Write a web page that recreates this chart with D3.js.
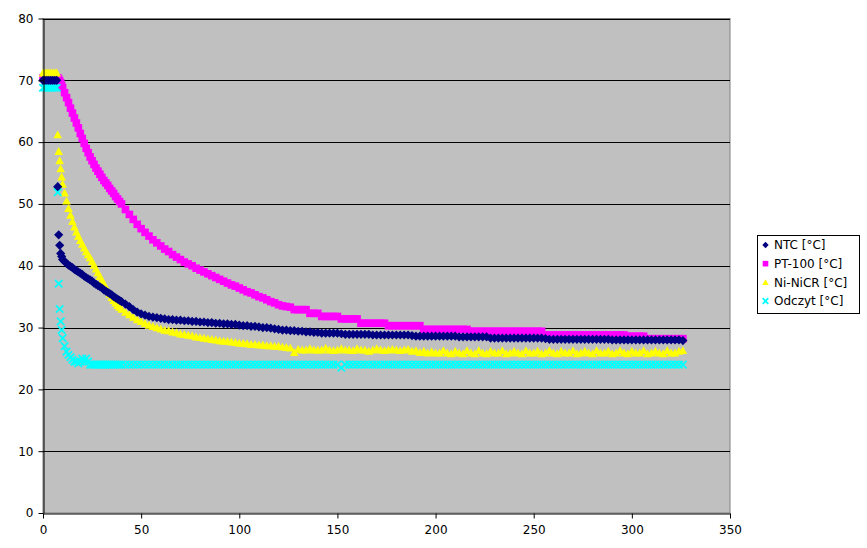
<!DOCTYPE html>
<html>
<head>
<meta charset="utf-8">
<script src="https://cdn.jsdelivr.net/npm/d3@7/dist/d3.min.js"></script>
<style>
  html, body { margin: 0; padding: 0; background: #ffffff; }
  svg { display: block; }
  text { font-family: "DejaVu Sans", sans-serif; }
</style>
</head>
<body>
<svg id="chart" width="867" height="548"></svg>
<script>
// ---- data ----
const xTicks = [0, 50, 100, 150, 200, 250, 300, 350];
const yTicks = [0, 10, 20, 30, 40, 50, 60, 70, 80];
const seriesNames = ["NTC [°C]", "PT-100 [°C]", "Ni-NiCR [°C]", "Odczyt [°C]"];

const time = [
  0,1,2,3,4,5,6,7,
  7.5,8,8.5,9,9.5,
  10,11,12,13,14,15,16,17,18,19,20,21,22,23,24,25,26,27,28,29,30,31,32,33,34,35,36,37,38,39,40,
  42,44,46,48,50,52,54,56,58,60,
  62,64,66,68,70,72,74,76,78,80,
  82,84,86,88,90,92,94,96,98,100,
  102,104,106,108,110,112,114,116,118,120,
  122,124,126,128,130,132,134,136,138,140,
  142,144,146,148,150,152,154,156,158,160,
  162,164,166,168,170,172,174,176,178,180,
  182,184,186,188,190,192,194,196,198,200,
  202,204,206,208,210,212,214,216,218,220,
  222,224,226,228,230,232,234,236,238,240,
  242,244,246,248,250,252,254,256,258,260,
  262,264,266,268,270,272,274,276,278,280,
  282,284,286,288,290,292,294,296,298,300,
  302,304,306,308,310,312,314,316,318,320,
  322,324,326
];

const ntc = [
  70,70,70,70,70,70,70,70,
  52.8,45.0,43.3,42.0,41.5,
  41.0,40.7,40.4,40.1,39.9,39.7,39.4,39.2,39.0,38.8,38.6,38.3,38.1,37.9,37.7,37.5,37.2,37.0,36.8,36.6,36.4,36.1,35.9,35.7,35.5,35.3,35.0,34.8,34.6,34.4,34.2,
  33.8,33.4,32.9,32.5,32.2,32.0,31.8,31.7,31.6,31.5,
  31.4,31.3,31.3,31.2,31.2,31.1,31.1,31.0,31.0,30.9,
  30.9,30.8,30.8,30.7,30.7,30.6,30.6,30.5,30.5,30.4,
  30.3,30.3,30.2,30.2,30.1,30.0,30.0,29.9,29.8,29.7,
  29.6,29.6,29.5,29.5,29.4,29.4,29.3,29.3,29.2,29.2,
  29.1,29.1,29.1,29.1,29.1,29.0,28.9,28.9,28.9,28.9,
  28.9,28.9,28.9,28.8,28.8,28.8,28.8,28.8,28.8,28.8,
  28.8,28.8,28.8,28.7,28.6,28.6,28.6,28.6,28.6,28.6,
  28.6,28.6,28.6,28.6,28.6,28.5,28.5,28.5,28.5,28.5,
  28.5,28.5,28.5,28.3,28.3,28.3,28.3,28.3,28.3,28.3,
  28.3,28.3,28.3,28.3,28.3,28.3,28.3,28.2,28.1,28.1,
  28.1,28.1,28.1,28.1,28.1,28.1,28.1,28.1,28.1,28.1,
  28.1,28.1,28.1,28.1,28.0,28.0,28.0,28.0,28.0,28.0,
  28.0,28.0,28.0,28.0,28.0,28.0,28.0,28.0,28.0,28.0,
  28.0,28.0,27.9
];

const pt100 = [
  70.4,70.4,70.4,70.4,70.4,70.4,70.4,70.4,
  70.4,70.2,69.9,69.6,69.2,
  68.8,68.0,67.2,66.4,65.5,64.7,63.9,63.1,62.3,61.4,60.6,59.8,59.0,58.3,57.6,57.0,56.4,55.8,55.3,54.8,54.3,53.8,53.4,53.0,52.5,52.1,51.7,51.2,50.8,50.4,50.0,
  49.1,48.3,47.5,46.7,46.0,45.4,44.8,44.2,43.7,43.2,
  42.7,42.3,41.8,41.4,41.0,40.6,40.3,40.0,39.6,39.3,
  39.0,38.7,38.4,38.1,37.8,37.5,37.2,36.9,36.7,36.4,
  36.1,35.8,35.6,35.3,35.0,34.8,34.5,34.2,34.0,33.7,
  33.5,33.4,33.3,32.9,32.9,32.9,32.9,32.3,32.3,32.3,
  31.8,31.8,31.8,31.8,31.8,31.4,31.4,31.4,31.4,31.4,
  30.7,30.7,30.7,30.7,30.7,30.7,30.7,30.3,30.3,30.3,
  30.3,30.3,30.3,30.3,30.3,30.3,29.7,29.7,29.7,29.7,
  29.7,29.7,29.7,29.7,29.7,29.7,29.7,29.7,29.4,29.4,
  29.4,29.4,29.4,29.4,29.4,29.4,29.4,29.4,29.4,29.4,
  29.4,29.4,29.4,29.4,29.4,29.4,29.4,28.8,28.8,28.8,
  28.8,28.8,28.8,28.8,28.8,28.8,28.8,28.8,28.8,28.8,
  28.8,28.8,28.8,28.8,28.8,28.8,28.8,28.8,28.6,28.6,
  28.6,28.6,28.6,28.2,28.2,28.2,28.2,28.2,28.2,28.2,
  28.2,28.2,28.2
];

const ninicr = [
  71.2,71.2,71.2,71.2,71.2,71.2,71.2,71.2,
  61.2,58.5,57.0,55.7,54.4,
  53.2,51.8,50.5,49.3,48.2,47.2,46.3,45.5,44.8,44.1,43.5,42.9,42.3,41.8,41.3,40.7,40.1,39.5,38.9,38.3,37.7,37.1,36.5,36.0,35.4,34.9,34.4,34.0,33.6,33.3,33.0,
  32.5,32.1,31.7,31.3,31.0,30.7,30.4,30.2,30.0,29.8,
  29.6,29.5,29.3,29.2,29.0,28.9,28.8,28.7,28.5,28.4,
  28.3,28.2,28.1,28.0,27.9,27.8,27.8,27.7,27.6,27.5,
  27.5,27.4,27.3,27.3,27.2,27.2,27.1,27.1,27.0,27.0,
  26.9,26.8,26.7,26.0,26.5,26.4,26.4,26.6,26.4,26.4,
  26.4,26.7,26.4,26.3,26.4,26.6,26.4,26.4,26.3,26.6,
  26.4,26.4,26.2,26.4,26.6,26.4,26.3,26.4,26.5,26.4,
  26.3,26.4,26.5,26.2,26.3,26.0,26.2,25.9,26.1,25.9,
  25.9,26.3,25.9,25.8,26.2,25.9,25.8,26.3,25.9,25.8,
  26.3,25.9,25.8,26.2,25.9,25.9,26.3,25.8,25.9,26.2,
  25.9,25.8,26.3,25.9,25.9,26.2,25.8,25.9,26.3,25.9,
  25.8,26.2,25.9,25.9,26.3,25.8,25.9,26.2,25.9,25.8,
  26.3,25.9,25.9,26.2,25.8,25.9,26.3,25.9,25.8,26.2,
  25.9,25.9,26.3,25.8,25.9,26.2,25.9,25.8,26.3,25.9,
  25.9,26.2,26.3
];

const odczyt = [
  68.8,68.8,68.8,68.8,68.8,68.8,68.8,68.8,
  51.9,37.1,33.0,31.0,29.6,
  28.3,27.0,26.1,25.6,25.2,24.8,24.5,24.5,24.2,24.5,25.0,24.5,25.0,24.5,24.0,24.0,24.0,24.0,24.0,24.0,24.0,24.0,24.0,24.0,24.0,24.0,24.0,24.0,24.0,24.0,24.0,
  24.0,24.0,24.0,24.0,24.0,24.0,24.0,24.0,24.0,24.0,
  24.0,24.0,24.0,24.0,24.0,24.0,24.0,24.0,24.0,24.0,
  24.0,24.0,24.0,24.0,24.0,24.0,24.0,24.0,24.0,24.0,
  24.0,24.0,24.0,24.0,24.0,24.0,24.0,24.0,24.0,24.0,
  24.0,24.0,24.0,24.0,24.0,24.0,24.0,24.0,24.0,24.0,
  24.0,24.0,24.0,24.0,24.0,23.5,24.0,24.0,24.0,24.0,
  24.0,24.0,24.0,24.0,24.0,24.0,24.0,24.0,24.0,24.0,
  24.0,24.0,24.0,24.0,24.0,24.0,24.0,24.0,24.0,24.0,
  24.0,24.0,24.0,24.0,24.0,24.0,24.0,24.0,24.0,24.0,
  24.0,24.0,24.0,24.0,24.0,24.0,24.0,24.0,24.0,24.0,
  24.0,24.0,24.0,24.0,24.0,24.0,24.0,24.0,24.0,24.0,
  24.0,24.0,24.0,24.0,24.0,24.0,24.0,24.0,24.0,24.0,
  24.0,24.0,24.0,24.0,24.0,24.0,24.0,24.0,24.0,24.0,
  24.0,24.0,24.0,24.0,24.0,24.0,24.0,24.0,24.0,24.0,
  24.0,24.0,24.0
];

// ---- chart ----
const svg = d3.select("#chart");
const plot = { left: 43, right: 730, top: 18.5, bottom: 513 };

const x = d3.scaleLinear().domain([0, 350]).range([plot.left, plot.right]);
const y = d3.scaleLinear().domain([0, 80]).range([plot.bottom, plot.top]);

svg.append("rect").attr("width", 867).attr("height", 548).attr("fill", "#ffffff");

svg.append("rect")
  .attr("x", plot.left).attr("y", plot.top)
  .attr("width", plot.right - plot.left).attr("height", plot.bottom - plot.top)
  .attr("fill", "#c0c0c0").attr("stroke", "#808080").attr("stroke-width", 1);

// gridlines
svg.append("g").selectAll("line")
  .data(yTicks.filter(d => d > 0))
  .join("line")
  .attr("x1", plot.left).attr("x2", plot.right)
  .attr("y1", d => Math.round(y(d)) + 0.5).attr("y2", d => Math.round(y(d)) + 0.5)
  .attr("stroke", "#000000").attr("stroke-width", 1);

// symbols
const shapes = {
  diamond: r => `M0,${-r}L${r},0L0,${r}L${-r},0Z`,
  square: r => `M${-r},${-r}H${r}V${r}H${-r}Z`,
  triangle: r => `M0,${-r}L${r},${r * 0.85}L${-r},${r * 0.85}Z`,
  cross: r => `M${-r},${-r}L${r},${r}M${r},${-r}L${-r},${r}`
};

const series = [
  { name: seriesNames[0], values: ntc, color: "#000080", shape: "diamond", r: 4.6, lr: 3.2 },
  { name: seriesNames[1], values: pt100, color: "#ff00ff", shape: "square", r: 3.8, lr: 2.8 },
  { name: seriesNames[2], values: ninicr, color: "#ffff00", shape: "triangle", r: 4.3, lr: 3.2 },
  { name: seriesNames[3], values: odczyt, color: "#00ffff", shape: "cross", r: 3.7, lr: 2.8 }
];

function drawMarker(sel, s, r) {
  if (s.shape === "cross") {
    sel.attr("d", shapes.cross(r)).attr("fill", "none")
      .attr("stroke", s.color).attr("stroke-width", 1.8);
  } else {
    sel.attr("d", shapes[s.shape](r)).attr("fill", s.color).attr("stroke", "none");
  }
}

// drawing order: NTC on top
const drawOrder = [1, 2, 3, 0];
drawOrder.forEach(i => {
  const s = series[i];
  const pts = time.map((t, k) => ({ t: t, v: s.values[k] })).filter(p => p.v != null);
  const g = svg.append("g");
  g.selectAll("path")
    .data(pts)
    .join("path")
    .attr("transform", p => `translate(${x(p.t)},${y(p.v)})`)
    .call(sel => drawMarker(sel, s, s.r));
});

// axes
const yAxis = d3.axisLeft(y).tickValues(yTicks).tickSize(5).tickSizeOuter(0).tickPadding(5);
const xAxis = d3.axisBottom(x).tickValues(xTicks).tickSize(5).tickSizeOuter(0).tickPadding(6.5);

const gy = svg.append("g").attr("transform", `translate(${plot.left + 0.5},0)`).call(yAxis);
const gx = svg.append("g").attr("transform", `translate(0,${plot.bottom + 0.5})`).call(xAxis);

[gx, gy].forEach(g => {
  g.selectAll("path.domain").attr("stroke", "#000000").attr("stroke-width", 1);
  g.selectAll(".tick line").attr("stroke", "#000000");
  g.selectAll(".tick text")
    .attr("fill", "#000000")
    .style("font-family", '"DejaVu Sans", sans-serif')
    .style("font-size", "12px");
});

// legend
const lg = svg.append("g");
lg.append("rect")
  .attr("x", 757.5).attr("y", 235.5).attr("width", 102).attr("height", 78)
  .attr("fill", "#ffffff").attr("stroke", "#000000").attr("stroke-width", 1);

const ly = d3.scaleLinear().domain([0, 3]).range([245, 301]);
series.forEach((s, i) => {
  lg.append("path")
    .attr("transform", `translate(765.5,${ly(i)})`)
    .call(sel => drawMarker(sel, s, s.lr));
  lg.append("text")
    .attr("x", 774).attr("y", ly(i))
    .attr("dy", "0.36em")
    .style("font-size", "12px")
    .attr("fill", "#000000")
    .text(s.name);
});
</script>
</body>
</html>
